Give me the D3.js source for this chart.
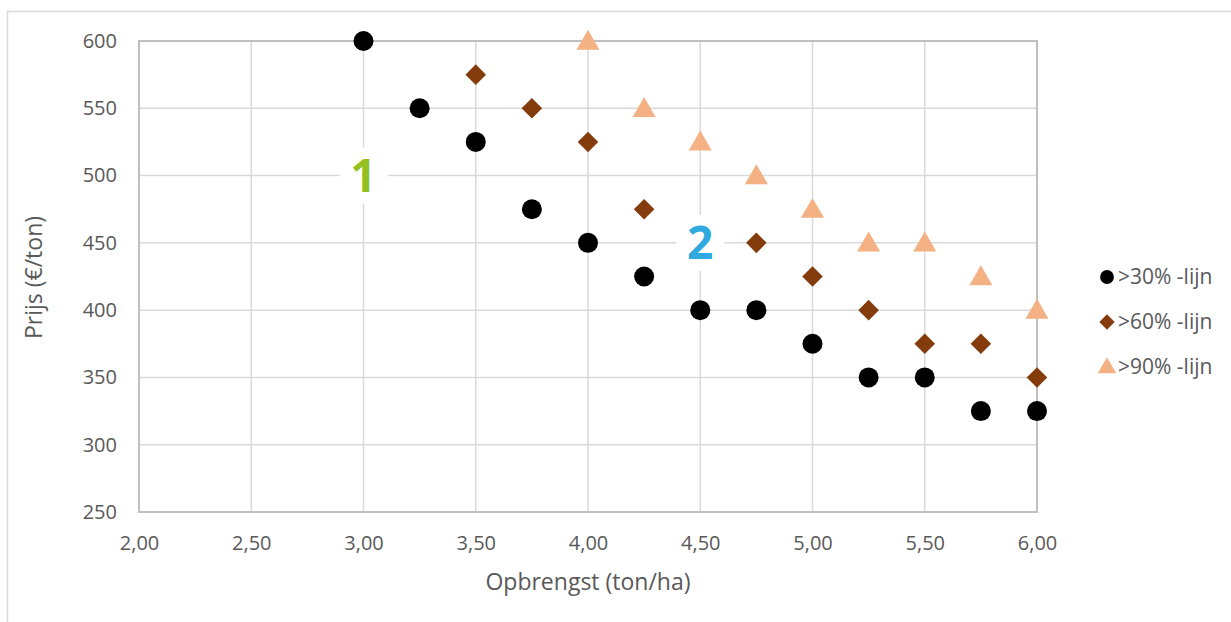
<!DOCTYPE html>
<html><head><meta charset="utf-8">
<script src="https://cdn.jsdelivr.net/npm/d3@7"></script>
<style>body{margin:0;background:#fff;}svg{display:block;font-family:"Open Sans",sans-serif;}</style>
</head><body>
<svg id="c" width="1231" height="622"></svg>
<script>
const xValues = [3.00,3.25,3.50,3.75,4.00,4.25,4.50,4.75,5.00,5.25,5.50,5.75,6.00];
const s30 = [600,550,525,475,450,425,400,400,375,350,350,325,325];
const x60 = [3.50,3.75,4.00,4.25,4.50,4.75,5.00,5.25,5.50,5.75,6.00];
const s60 = [575,550,525,475,450,450,425,400,375,375,350];
const x90 = [4.00,4.25,4.50,4.75,5.00,5.25,5.50,5.75,6.00];
const s90 = [600,550,525,500,475,450,450,425,400];
const seriesNames = [">30% -lijn", ">60% -lijn", ">90% -lijn"];
const xTicks = [2.0,2.5,3.0,3.5,4.0,4.5,5.0,5.5,6.0];
const yTicks = [250,300,350,400,450,500,550,600];
const labels = [{t:"1", x:3.00, y:500, c:"#92c01e"}, {t:"2", x:4.50, y:450, c:"#2fa9e0"}];

const svg = d3.select("#c");
const L=139,R=1037,T=41,B=512;
const x = d3.scaleLinear().domain([2,6]).range([L,R]);
const y = d3.scaleLinear().domain([250,600]).range([B,T]);
const fmt = d => d.toFixed(2).replace(".", ",");

// outer border
svg.append("rect").attr("x",7.5).attr("y",11.5).attr("width",1240).attr("height",630)
  .attr("fill","none").attr("stroke","#d9d9d9").attr("stroke-width",1.5);

// grid
svg.append("g").selectAll("line").data(xTicks).join("line")
  .attr("x1",d=>x(d)).attr("x2",d=>x(d)).attr("y1",T).attr("y2",B)
  .attr("stroke","#d9d9d9").attr("stroke-width",1.5);
svg.append("g").selectAll("line").data(yTicks).join("line")
  .attr("x1",L).attr("x2",R).attr("y1",d=>y(d)).attr("y2",d=>y(d))
  .attr("stroke","#d9d9d9").attr("stroke-width",1.5);
// plot frame
svg.append("rect").attr("x",L).attr("y",T).attr("width",R-L).attr("height",B-T)
  .attr("fill","none").attr("stroke","#bfbfbf").attr("stroke-width",2);

// axes
const xa = svg.append("g").attr("transform",`translate(0,${B})`)
  .call(d3.axisBottom(x).tickValues(xTicks).tickFormat(fmt).tickSize(0).tickPadding(24));
const ya = svg.append("g").attr("transform",`translate(${L},0)`)
  .call(d3.axisLeft(y).tickValues(yTicks).tickSize(0).tickPadding(22));
[xa,ya].forEach(a=>{a.select(".domain").remove();
  a.selectAll("text").attr("fill","#595959").attr("font-size",20).attr("font-family","Open Sans");});

svg.append("text").attr("x",588).attr("y",590).attr("text-anchor","middle")
  .attr("fill","#595959").attr("font-size",23).text("Opbrengst (ton/ha)");
svg.append("text").attr("transform",`translate(42,${(T+B)/2+1}) rotate(-90)`).attr("text-anchor","middle")
  .attr("fill","#595959").attr("font-size",23).text("Prijs (€/ton)");

const sym30 = d3.symbol().type(d3.symbolCircle).size(Math.PI*10*10);
const sym60 = d3.symbol().type(d3.symbolDiamond2).size(270);
const sym90 = d3.symbol().type(d3.symbolTriangle).size(230);

svg.append("g").selectAll("path").data(xValues.map((v,i)=>[v,s30[i]])).join("path")
  .attr("d",sym30).attr("transform",d=>`translate(${x(d[0])},${y(d[1])})`).attr("fill","#000");
svg.append("g").selectAll("path").data(x60.map((v,i)=>[v,s60[i]])).join("path")
  .attr("d",sym60).attr("transform",d=>`translate(${x(d[0])},${y(d[1])})`).attr("fill","#843c0c");
svg.append("g").selectAll("path").data(x90.map((v,i)=>[v,s90[i]])).join("path")
  .attr("d",sym90).attr("transform",d=>`translate(${x(d[0])},${y(d[1])+2})`).attr("fill","#f4b183");

// labels
const lg = svg.append("g").selectAll("g").data(labels).join("g")
  .attr("transform",d=>`translate(${x(d.x)},${y(d.y)})`);
lg.append("rect").attr("x",-24).attr("y",-28).attr("width",48).attr("height",56).attr("fill","#fff");
lg.append("text").attr("text-anchor","middle").attr("dy","0.36em").attr("font-size",46)
  .attr("font-weight","bold").attr("fill",d=>d.c).text(d=>d.t);

// legend
const cols=["#000","#843c0c","#f4b183"];
const leg = svg.append("g").selectAll("g").data(seriesNames).join("g")
  .attr("transform",(d,i)=>`translate(1107,${277+i*45})`);
leg.append("path").attr("d",(d,i)=>d3.symbol().type([d3.symbolCircle,d3.symbolDiamond2,d3.symbolTriangle][i]).size([150,150,150][i])())
  .attr("transform",(d,i)=>i===2?"translate(0,1)":null)
  .attr("fill",(d,i)=>cols[i]);
leg.append("text").attr("x",11).attr("dy","0.35em").attr("font-size",21).attr("fill","#595959").text(d=>d);
</script>
</body></html>
